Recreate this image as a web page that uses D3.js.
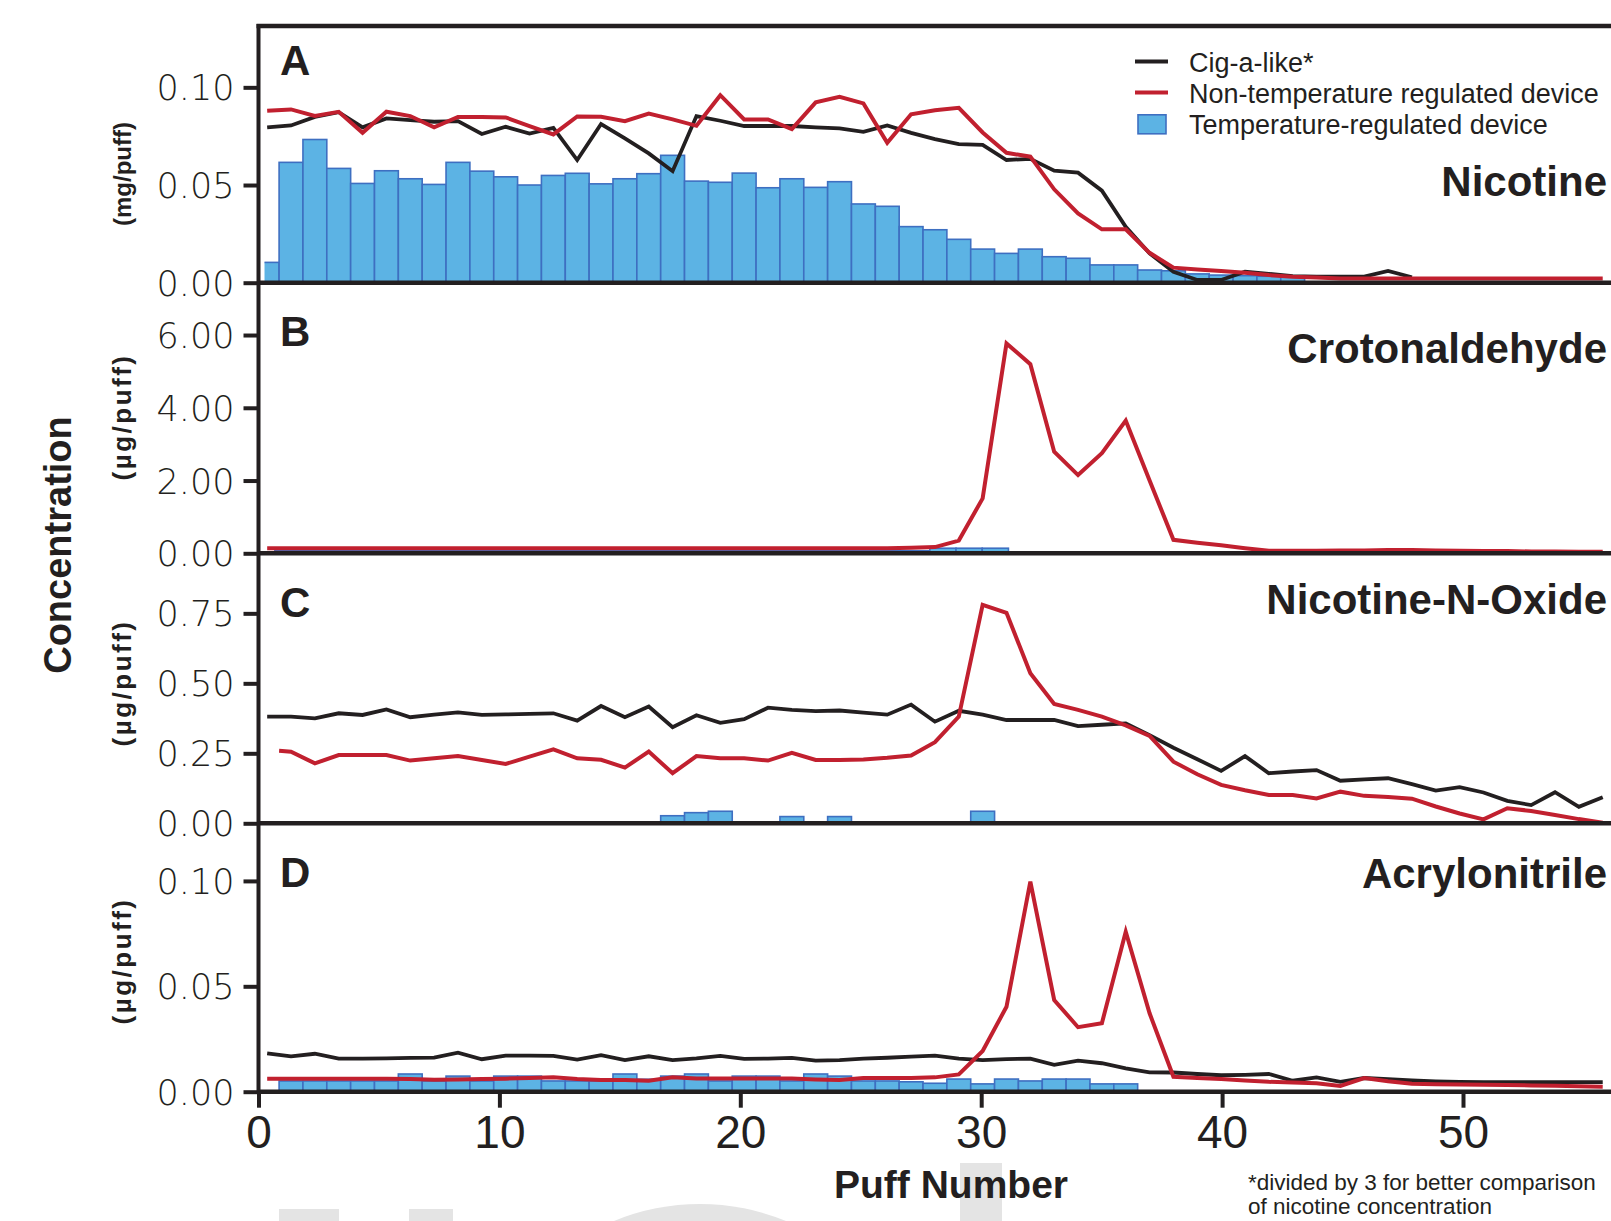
<!DOCTYPE html>
<html>
<head>
<meta charset="utf-8">
<script src="https://cdn.jsdelivr.net/npm/d3@7/dist/d3.min.js"></script>
<style>
  html, body { margin: 0; padding: 0; background: #fff; overflow: hidden; }
  svg { display: block; }
</style>
</head>
<body>
<div id="chart"></div>
<script>
// ---- data ----
const puffTicks = [0, 10, 20, 30, 40, 50];

// A: nicotine, mg/puff
const nicTicks = [0, 0.05, 0.10];
const nicBars = [0.0104, 0.0616, 0.0733, 0.0585, 0.0508, 0.0573, 0.0532, 0.0503, 0.0616, 0.0571,
  0.0542, 0.0500, 0.0549, 0.0560, 0.0506, 0.0532, 0.0558, 0.0652, 0.0520, 0.0514,
  0.0561, 0.0486, 0.0532, 0.0488, 0.0517, 0.0403, 0.0391, 0.0287, 0.0271, 0.0222,
  0.0172, 0.0150, 0.0172, 0.0133, 0.0125, 0.0091, 0.0091, 0.0065, 0.0061, 0.0045,
  0.0039, 0.0036, 0.0033, 0.0030];
const nicCig = [0.0795, 0.0805, 0.0849, 0.0873, 0.0795, 0.0841, 0.0832, 0.0824, 0.0827, 0.0761,
  0.0798, 0.0763, 0.0793, 0.0628, 0.0812, 0.0739, 0.0662, 0.0571, 0.0853, 0.0829,
  0.0802, 0.0802, 0.0802, 0.0795, 0.0790, 0.0772, 0.0805, 0.0767, 0.0735, 0.0709,
  0.0705, 0.0628, 0.0634, 0.0573, 0.0563, 0.0471, 0.0286, 0.0150, 0.0056, 0.0014,
  0.0014, 0.0056, 0.0045, 0.0034, 0.0031, 0.0031, 0.0031, 0.0060, 0.0028];
const nicNonTemp = [0.0880, 0.0887, 0.0854, 0.0875, 0.0767, 0.0875, 0.0853, 0.0795, 0.0848, 0.0848,
  0.0846, 0.0802, 0.0759, 0.0851, 0.0849, 0.0827, 0.0866, 0.0836, 0.0803, 0.0960,
  0.0836, 0.0836, 0.0786, 0.0923, 0.0951, 0.0918, 0.0716, 0.0862, 0.0883, 0.0895,
  0.0769, 0.0665, 0.0645, 0.0478, 0.0355, 0.0273, 0.0273, 0.0153, 0.0077, 0.0068,
  0.0060, 0.0051, 0.0039, 0.0031, 0.0026, 0.0022, 0.0022, 0.0022, 0.0022, 0.0022,
  0.0022, 0.0022, 0.0022, 0.0022, 0.0022, 0.0022, 0.0022];

// B: crotonaldehyde, µg/puff
const crotTicks = [0, 2, 4, 6];
const crotBars = [0.07, 0.07, 0.07, 0.07, 0.07, 0.07, 0.07, 0.07, 0.07, 0.07,
  0.07, 0.07, 0.07, 0.07, 0.07, 0.07, 0.07, 0.07, 0.07, 0.07,
  0.07, 0.07, 0.07, 0.07, 0.07, 0.14, 0.14, 0.14];
const crotNonTemp = [0.14, 0.14, 0.14, 0.14, 0.14, 0.14, 0.14, 0.14, 0.14, 0.14,
  0.14, 0.14, 0.14, 0.14, 0.14, 0.14, 0.14, 0.14, 0.14, 0.14,
  0.14, 0.14, 0.14, 0.14, 0.14, 0.14, 0.14, 0.15, 0.17, 0.35,
  1.51, 5.77, 5.20, 2.79, 2.15, 2.75, 3.65, 2.00, 0.37, 0.29,
  0.22, 0.14, 0.07, 0.07, 0.07, 0.08, 0.08, 0.09, 0.09, 0.08,
  0.07, 0.06, 0.06, 0.05, 0.05, 0.04, 0.04];

// C: nicotine-N-oxide, µg/puff
const nnoTicks = [0, 0.25, 0.50, 0.75];
const nnoBarPuffs = [18, 19, 20, 23, 25, 31];
const nnoBars = [0.027, 0.038, 0.043, 0.024, 0.024, 0.043];
const nnoCig = [0.381, 0.381, 0.375, 0.393, 0.387, 0.407, 0.379, 0.388, 0.396, 0.387,
  0.389, 0.391, 0.393, 0.367, 0.419, 0.379, 0.417, 0.343, 0.386, 0.359,
  0.372, 0.413, 0.405, 0.401, 0.403, 0.395, 0.388, 0.424, 0.363, 0.402,
  0.388, 0.369, 0.369, 0.369, 0.347, 0.352, 0.357, 0.315, 0.270, 0.229,
  0.187, 0.240, 0.179, 0.185, 0.190, 0.152, 0.157, 0.161, 0.140, 0.117,
  0.129, 0.110, 0.080, 0.065, 0.111, 0.059, 0.093];
// this trace starts half a puff in: [puff, value], then puffs 2..57
const nnoNonTempLead = [1.5, 0.259];
const nnoNonTemp = [0.256, 0.214, 0.244, 0.244, 0.244, 0.224, 0.232, 0.240, 0.226, 0.212,
  0.238, 0.264, 0.232, 0.227, 0.199, 0.256, 0.179, 0.240, 0.232, 0.232,
  0.224, 0.252, 0.226, 0.226, 0.228, 0.234, 0.242, 0.290, 0.381, 0.780,
  0.752, 0.536, 0.426, 0.405, 0.381, 0.350, 0.312, 0.220, 0.175, 0.137,
  0.118, 0.101, 0.101, 0.089, 0.113, 0.098, 0.094, 0.088, 0.060, 0.035,
  0.014, 0.054, 0.044, 0.030, 0.015, 0.002];

// D: acrylonitrile, µg/puff
const acrTicks = [0, 0.05, 0.10];
const acrBars = [0.0051, 0.0051, 0.0051, 0.0051, 0.0051, 0.0084, 0.0051, 0.0074, 0.0051, 0.0074,
  0.0074, 0.0051, 0.0051, 0.0051, 0.0084, 0.0059, 0.0074, 0.0084, 0.0051, 0.0074,
  0.0074, 0.0051, 0.0084, 0.0074, 0.0051, 0.0051, 0.0047, 0.0040, 0.0060, 0.0037,
  0.0060, 0.0051, 0.0060, 0.0060, 0.0037, 0.0037];
const acrCig = [0.0182, 0.0168, 0.0180, 0.0157, 0.0157, 0.0158, 0.0160, 0.0162, 0.0185, 0.0154,
  0.0171, 0.0171, 0.0170, 0.0152, 0.0173, 0.0150, 0.0168, 0.0150, 0.0158, 0.0170,
  0.0156, 0.0157, 0.0160, 0.0147, 0.0150, 0.0157, 0.0161, 0.0166, 0.0171, 0.0157,
  0.0150, 0.0155, 0.0157, 0.0127, 0.0147, 0.0135, 0.0111, 0.0092, 0.0091, 0.0084,
  0.0078, 0.0080, 0.0084, 0.0052, 0.0068, 0.0047, 0.0065, 0.0059, 0.0054, 0.0049,
  0.0046, 0.0045, 0.0045, 0.0045, 0.0045, 0.0045, 0.0045];
const acrNonTemp = [0.0062, 0.0062, 0.0062, 0.0062, 0.0062, 0.0062, 0.0060, 0.0057, 0.0058, 0.0060,
  0.0062, 0.0065, 0.0068, 0.0060, 0.0056, 0.0055, 0.0052, 0.0068, 0.0063, 0.0063,
  0.0063, 0.0063, 0.0063, 0.0058, 0.0055, 0.0065, 0.0065, 0.0065, 0.0068, 0.0082,
  0.0193, 0.0403, 0.0997, 0.0435, 0.0306, 0.0325, 0.0759, 0.0372, 0.0071, 0.0065,
  0.0060, 0.0053, 0.0047, 0.0044, 0.0040, 0.0027, 0.0065, 0.0050, 0.0038, 0.0035,
  0.0034, 0.0033, 0.0032, 0.0030, 0.0028, 0.0026, 0.0024];

const legendItems = ["Cig-a-like*", "Non-temperature regulated device", "Temperature-regulated device"];

// ---- setup ----
const W = 1611, H = 1221;
const INK = "#231f20", RED = "#c1202f", BAR_FILL = "#5cb3e4", BAR_EDGE = "#3e6fc1";
const sans = "'Liberation Sans', Arial, sans-serif";
const narrow = "'Liberation Sans Narrow', 'Liberation Sans', sans-serif";
const round = "'DejaVu Sans', sans-serif";

const svg = d3.select("#chart").append("svg")
  .attr("width", W).attr("height", H)
  .style("font-family", sans);

// faint watermark letters at the bottom edge
const wm = svg.append("g").attr("fill", "#e4e4e4");
wm.append("rect").attr("x", 279).attr("y", 1209).attr("width", 60).attr("height", 20);
wm.append("rect").attr("x", 409).attr("y", 1209).attr("width", 44).attr("height", 20);
wm.append("circle").attr("cx", 700).attr("cy", 1430).attr("r", 226);
wm.append("rect").attr("x", 960).attr("y", 1163).attr("width", 42).attr("height", 60);

// axis runs on past the right edge of the crop
const x = d3.scaleLinear().domain([0, 60]).range([258.5, 258.5 + 60 * 24.09]);
// the plotted points sit a little left of the matching axis value in the source
const px = k => x(0.99 * k - 0.63);
const seq = (vals, first) => vals.map((v, i) => ({ k: first + i, v }));
const pairs = (puffs, vals) => puffs.map((k, i) => ({ k, v: vals[i] }));

const stdBars = { left: -0.135, step: 0.99 };
const panels = [
  { letter: "A", name: "Nicotine", unit: "(mg/puff)", unitY: 174, unitSize: 24, unitSpace: 0,
    top: 26, bottom: 282.7, max: 0.1314, ticks: nicTicks, nameY: 196,
    bars: seq(nicBars, 1), barLayout: stdBars,
    black: seq(nicCig, 1), red: seq(nicNonTemp, 1) },
  { letter: "B", name: "Crotonaldehyde", unit: "(µg/puff)", unitY: 417, unitSize: 26, unitSpace: 2.5,
    top: 283, bottom: 553.3, max: 7.43, ticks: crotTicks, nameY: 363,
    bars: seq(crotBars, 1), barLayout: { left: 0.68, step: 1.0875 },
    black: null, red: seq(crotNonTemp, 1) },
  { letter: "C", name: "Nicotine-N-Oxide", unit: "(µg/puff)", unitY: 683, unitSize: 26, unitSpace: 2.5,
    top: 554, bottom: 823.3, max: 0.962, ticks: nnoTicks, nameY: 614,
    bars: pairs(nnoBarPuffs, nnoBars), barLayout: stdBars,
    black: seq(nnoCig, 1),
    red: [{ k: nnoNonTempLead[0], v: nnoNonTempLead[1] }].concat(seq(nnoNonTemp, 2)) },
  { letter: "D", name: "Acrylonitrile", unit: "(µg/puff)", unitY: 961, unitSize: 26, unitSpace: 2.5,
    top: 824, bottom: 1091.7, max: 0.127, ticks: acrTicks, nameY: 888,
    bars: seq(acrBars, 2), barLayout: stdBars,
    black: seq(acrCig, 1), red: seq(acrNonTemp, 1) }
];

svg.append("clipPath").attr("id", "barClip")
  .append("rect").attr("x", x(0.25)).attr("y", 0).attr("width", W).attr("height", H);

panels.forEach(p => {
  const y = d3.scaleLinear().domain([0, p.max]).range([p.bottom, p.top]);
  const g = svg.append("g");

  // bars (temperature-regulated device)
  const L = p.barLayout;
  g.append("g").attr("clip-path", "url(#barClip)")
    .selectAll("rect").data(p.bars).join("rect")
    .attr("x", d => x(L.left + (d.k - 1) * L.step))
    .attr("width", d => x(L.left + d.k * L.step) - x(L.left + (d.k - 1) * L.step))
    .attr("y", d => y(d.v))
    .attr("height", d => p.bottom - y(d.v))
    .attr("fill", BAR_FILL)
    .attr("stroke", BAR_EDGE)
    .attr("stroke-width", 1.6);

  const line = d3.line().x(d => px(d.k)).y(d => y(d.v));
  if (p.black) {
    g.append("path").datum(p.black).attr("d", line)
      .attr("fill", "none").attr("stroke", INK)
      .attr("stroke-width", 3.8).attr("stroke-linejoin", "miter");
  }
  g.append("path").datum(p.red).attr("d", line)
    .attr("fill", "none").attr("stroke", RED)
    .attr("stroke-width", 4).attr("stroke-linejoin", "miter");

  // y axis ticks + labels
  const ax = g.append("g").attr("transform", `translate(${x(0)},0)`)
    .call(d3.axisLeft(y).tickValues(p.ticks).tickSize(15).tickPadding(9)
      .tickFormat(d3.format(".2f")));
  ax.select(".domain").remove();
  ax.selectAll(".tick line").attr("stroke", INK).attr("stroke-width", 4);
  ax.selectAll(".tick text")
    .attr("fill", INK).attr("font-family", round).attr("font-size", 35)
    .attr("font-weight", 300).attr("dy", "0.36em");

  // panel baseline
  g.append("line").attr("x1", x(0)).attr("x2", W)
    .attr("y1", p.bottom).attr("y2", p.bottom)
    .attr("stroke", INK).attr("stroke-width", 4.5);

  // panel letter and compound name
  g.append("text").attr("x", 280).attr("y", p.top + (p.letter === "A" ? 49 : 63))
    .attr("font-size", 42).attr("font-weight", "bold").attr("fill", INK)
    .text(p.letter);
  g.append("text").attr("x", W - 4).attr("y", p.nameY)
    .attr("text-anchor", "end")
    .attr("font-size", 42).attr("font-weight", "bold").attr("fill", INK)
    .text(p.name);

  // unit label
  g.append("text")
    .attr("transform", `translate(131,${p.unitY}) rotate(-90)`)
    .attr("text-anchor", "middle")
    .attr("font-size", p.unitSize).attr("letter-spacing", p.unitSpace)
    .attr("font-weight", "bold").attr("fill", INK)
    .text(p.unit);
});

// frame: left axis and top rule
svg.append("line").attr("x1", x(0)).attr("x2", x(0)).attr("y1", 24).attr("y2", 1093.5)
  .attr("stroke", INK).attr("stroke-width", 4);
svg.append("line").attr("x1", x(0) - 2).attr("x2", W).attr("y1", 26).attr("y2", 26)
  .attr("stroke", INK).attr("stroke-width", 4.5);

// x axis
const xAx = svg.append("g").attr("transform", "translate(0,1091.7)")
  .call(d3.axisBottom(x).tickValues(puffTicks).tickSize(16).tickPadding(8)
    .tickFormat(d3.format("d")));
xAx.select(".domain").remove();
xAx.selectAll(".tick line").attr("stroke", INK).attr("stroke-width", 4);
xAx.selectAll(".tick text").attr("fill", INK)
  .attr("font-family", narrow).attr("font-size", 46);

// axis titles
svg.append("text").attr("transform", "translate(71,545) rotate(-90)")
  .attr("text-anchor", "middle").attr("font-size", 38).attr("font-weight", "bold")
  .attr("fill", INK).text("Concentration");
svg.append("text").attr("x", 951).attr("y", 1198)
  .attr("text-anchor", "middle").attr("font-size", 39).attr("font-weight", "bold")
  .attr("fill", INK).text("Puff Number");

// footnote
const note = svg.append("text").attr("font-size", 22.5).attr("fill", INK);
note.append("tspan").attr("x", 1248).attr("y", 1190).text("*divided by 3 for better comparison");
note.append("tspan").attr("x", 1248).attr("y", 1214).text("of nicotine concentration");

// legend
const lg = svg.append("g").attr("transform", "translate(1135,0)");
const rowsY = [61.6, 92.5, 124.3];
lg.append("line").attr("x1", 0).attr("x2", 33).attr("y1", rowsY[0]).attr("y2", rowsY[0])
  .attr("stroke", INK).attr("stroke-width", 4);
lg.append("line").attr("x1", 0).attr("x2", 33).attr("y1", rowsY[1]).attr("y2", rowsY[1])
  .attr("stroke", RED).attr("stroke-width", 4);
lg.append("rect").attr("x", 3).attr("y", rowsY[2] - 9.5).attr("width", 28).attr("height", 19)
  .attr("fill", BAR_FILL).attr("stroke", BAR_EDGE).attr("stroke-width", 1.6);
lg.selectAll("text.lab").data(legendItems).join("text")
  .attr("class", "lab")
  .attr("x", 54).attr("y", (d, i) => rowsY[i] + 10)
  .attr("font-size", 27).attr("fill", INK)
  .text(d => d);
</script>
</body>
</html>
